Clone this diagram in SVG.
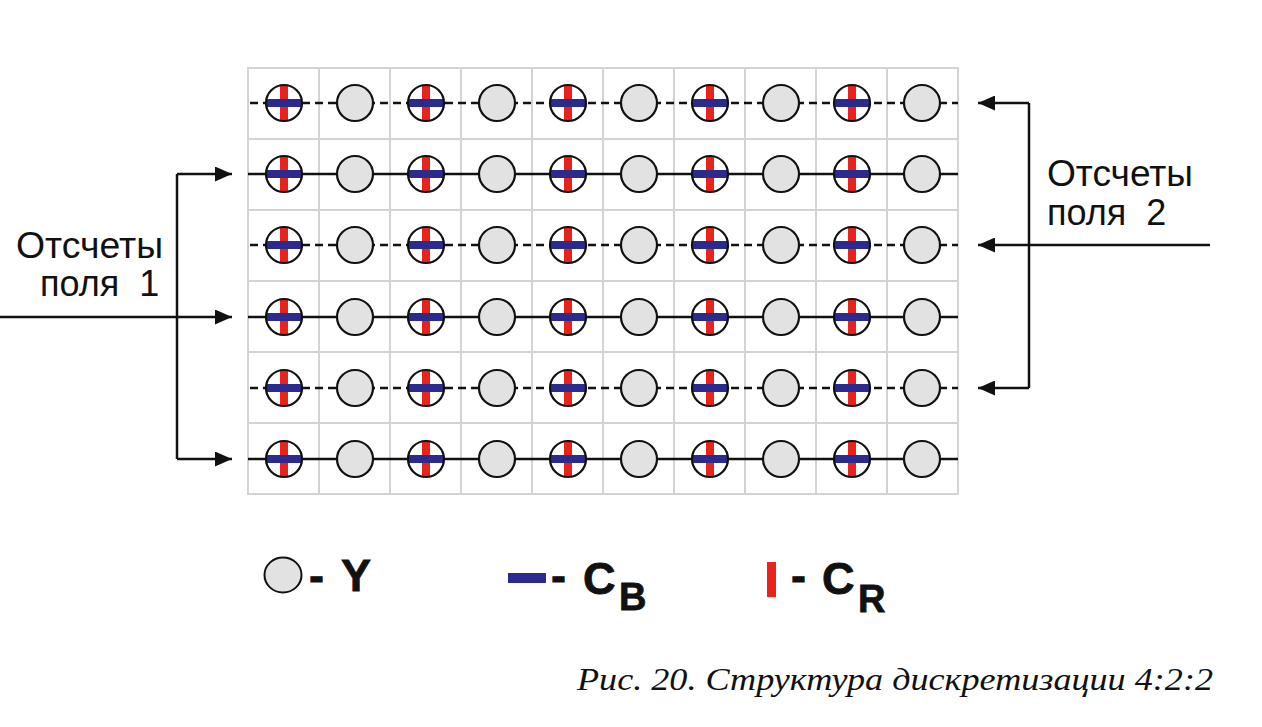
<svg xmlns="http://www.w3.org/2000/svg" width="1262" height="727" viewBox="0 0 1262 727">
<style>
.grid{stroke:#d3d3d3;stroke-width:2;fill:none}
.row{stroke:#111;stroke-width:2.5;fill:none}
.dash{stroke-dasharray:8 5}
.conn{stroke:#111;stroke-width:2.5;fill:none}
.lbl{font-family:"Liberation Sans",Arial,sans-serif;font-size:36px;fill:#111}
.leg{font-family:"Liberation Sans",Arial,sans-serif;font-weight:bold;fill:#111;stroke:#111;stroke-width:0.8}
.cap{font-family:"Liberation Serif","Times New Roman",serif;font-style:italic;font-size:31px;fill:#111}
</style>
<defs>
<marker id="ah" markerUnits="userSpaceOnUse" markerWidth="18" markerHeight="15" refX="17" refY="7.5" orient="auto">
<path d="M0,0 L17,7.5 L0,15 z" fill="#111"/>
</marker>
<g id="cx">
<circle r="18" fill="#fff"/>
<rect x="-4" y="-18" width="8" height="36" fill="#e8231c"/>
<rect x="-18" y="-4" width="36" height="8" fill="#2b2b8f"/>
<circle r="18" fill="none" stroke="#111" stroke-width="2.2"/>
</g>
<g id="cy">
<circle r="18" fill="#e2e2e2" stroke="#111" stroke-width="2.2"/>
</g>
</defs>
<rect width="1262" height="727" fill="#fff"/>
<g id="grid">
<rect class="grid" x="248" y="68" width="710" height="426"/>
<path class="grid" d="M319,68V494M390,68V494M461,68V494M532,68V494M603,68V494M674,68V494M745,68V494M816,68V494M887,68V494"/>
<path class="grid" d="M248,139H958M248,210H958M248,281H958M248,352H958M248,423H958"/>
</g>
<g id="connectors">
<path class="row dash" d="M250,103H958"/>
<path class="row" d="M248,174H958"/>
<path class="row dash" d="M250,245H958"/>
<path class="row" d="M248,317H958"/>
<path class="row dash" d="M250,388H958"/>
<path class="row" d="M248,459H958"/>
<path class="conn" d="M177,174V459"/>
<path class="conn" d="M177,174H232" marker-end="url(#ah)"/>
<path class="conn" d="M177,459H232" marker-end="url(#ah)"/>
<path class="conn" d="M0,317H232" marker-end="url(#ah)"/>
<path class="conn" d="M1029,103V388"/>
<path class="conn" d="M1029,103H978" marker-end="url(#ah)"/>
<path class="conn" d="M1029,388H978" marker-end="url(#ah)"/>
<path class="conn" d="M1210,245H978" marker-end="url(#ah)"/>
</g>
<g id="samples-row1">
<use href="#cx" x="284" y="103"/><use href="#cy" x="355" y="103"/><use href="#cx" x="426" y="103"/><use href="#cy" x="497" y="103"/><use href="#cx" x="568" y="103"/><use href="#cy" x="639" y="103"/><use href="#cx" x="710" y="103"/><use href="#cy" x="781" y="103"/><use href="#cx" x="852" y="103"/><use href="#cy" x="922" y="103"/>
</g>
<g id="samples-row2">
<use href="#cx" x="284" y="174"/><use href="#cy" x="355" y="174"/><use href="#cx" x="426" y="174"/><use href="#cy" x="497" y="174"/><use href="#cx" x="568" y="174"/><use href="#cy" x="639" y="174"/><use href="#cx" x="710" y="174"/><use href="#cy" x="781" y="174"/><use href="#cx" x="852" y="174"/><use href="#cy" x="922" y="174"/>
</g>
<g id="samples-row3">
<use href="#cx" x="284" y="245"/><use href="#cy" x="355" y="245"/><use href="#cx" x="426" y="245"/><use href="#cy" x="497" y="245"/><use href="#cx" x="568" y="245"/><use href="#cy" x="639" y="245"/><use href="#cx" x="710" y="245"/><use href="#cy" x="781" y="245"/><use href="#cx" x="852" y="245"/><use href="#cy" x="922" y="245"/>
</g>
<g id="samples-row4">
<use href="#cx" x="284" y="317"/><use href="#cy" x="355" y="317"/><use href="#cx" x="426" y="317"/><use href="#cy" x="497" y="317"/><use href="#cx" x="568" y="317"/><use href="#cy" x="639" y="317"/><use href="#cx" x="710" y="317"/><use href="#cy" x="781" y="317"/><use href="#cx" x="852" y="317"/><use href="#cy" x="922" y="317"/>
</g>
<g id="samples-row5">
<use href="#cx" x="284" y="388"/><use href="#cy" x="355" y="388"/><use href="#cx" x="426" y="388"/><use href="#cy" x="497" y="388"/><use href="#cx" x="568" y="388"/><use href="#cy" x="639" y="388"/><use href="#cx" x="710" y="388"/><use href="#cy" x="781" y="388"/><use href="#cx" x="852" y="388"/><use href="#cy" x="922" y="388"/>
</g>
<g id="samples-row6">
<use href="#cx" x="284" y="459"/><use href="#cy" x="355" y="459"/><use href="#cx" x="426" y="459"/><use href="#cy" x="497" y="459"/><use href="#cx" x="568" y="459"/><use href="#cy" x="639" y="459"/><use href="#cx" x="710" y="459"/><use href="#cy" x="781" y="459"/><use href="#cx" x="852" y="459"/><use href="#cy" x="922" y="459"/>
</g>
<g id="label-field1">
<text class="lbl" x="16" y="258" textLength="147" lengthAdjust="spacingAndGlyphs">Отсчеты</text>
<text class="lbl" x="40" y="296" xml:space="preserve">поля  1</text>
</g>
<g id="label-field2">
<text class="lbl" x="1047" y="186" textLength="146" lengthAdjust="spacingAndGlyphs">Отсчеты</text>
<text class="lbl" x="1047" y="225" xml:space="preserve">поля  2</text>
</g>
<g id="legend">
<ellipse cx="283" cy="575" rx="18.5" ry="17.5" fill="#e2e2e2" stroke="#111" stroke-width="2"/>
<text class="leg" x="309" y="591" font-size="45">-</text>
<text class="leg" x="341" y="591" font-size="45">Y</text>
<rect x="508" y="573" width="38" height="10" fill="#2b2b8f"/>
<text class="leg" x="551" y="591" font-size="45">-</text>
<text class="leg" x="583" y="594" font-size="45">C</text>
<text class="leg" x="619" y="610" font-size="38">B</text>
<rect x="767" y="562" width="9" height="35" fill="#e8231c"/>
<text class="leg" x="791" y="591" font-size="45">-</text>
<text class="leg" x="822" y="594" font-size="45">C</text>
<text class="leg" x="858" y="612" font-size="38">R</text>
</g>
<text class="cap" x="577" y="690" textLength="636" lengthAdjust="spacingAndGlyphs">Рис. 20. Структура дискретизации 4:2:2</text>
</svg>
